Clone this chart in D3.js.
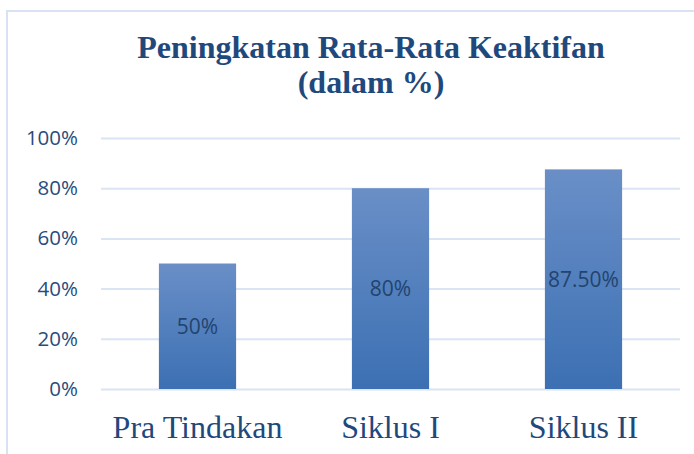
<!DOCTYPE html>
<html>
<head>
<meta charset="utf-8">
<script src="https://cdn.jsdelivr.net/npm/d3@7"></script>
<style>
  html, body { margin: 0; padding: 0; background: #fff; }
  svg { display: block; }
</style>
</head>
<body>
<svg id="chart" width="694" height="454"></svg>
<script>
const categories = ["Pra Tindakan", "Siklus I", "Siklus II"];
const values = [0.50, 0.80, 0.875];
const dataLabels = ["50%", "80%", "87.50%"];
const yTicks = [0, 0.2, 0.4, 0.6, 0.8, 1.0];
const titleLines = ["Peningkatan Rata-Rata Keaktifan", "(dalam %)"];

const svg = d3.select("#chart");

// frame
svg.append("rect")
  .attr("x", 7).attr("y", 11)
  .attr("width", 760).attr("height", 480)
  .attr("fill", "none")
  .attr("stroke", "#D7E3F3")
  .attr("stroke-width", 2);

const x = d3.scaleBand()
  .domain(categories)
  .range([101, 680])
  .paddingInner(0.6)
  .paddingOuter(0.3);

const y = d3.scaleLinear()
  .domain([0, 1])
  .range([389, 138]);

// gradient
const defs = svg.append("defs");
const grad = defs.append("linearGradient")
  .attr("id", "barGrad")
  .attr("x1", 0).attr("y1", 0).attr("x2", 0).attr("y2", 1);
grad.append("stop").attr("offset", "0%").attr("stop-color", "#6A8FC7");
grad.append("stop").attr("offset", "100%").attr("stop-color", "#3C70B3");

// gridlines + y labels via axis
const yAxis = d3.axisLeft(y)
  .tickValues(yTicks)
  .tickSize(-(680 - 101))
  .tickPadding(23)
  .tickFormat(d3.format(".0%"));

const gy = svg.append("g")
  .attr("transform", "translate(101,0)")
  .call(yAxis);
gy.select(".domain").remove();
gy.selectAll(".tick line")
  .attr("stroke", "#D9E4F4")
  .attr("stroke-width", 2);
gy.selectAll(".tick text")
  .attr("fill", "#284C7C")
  .attr("font-family", "'Open Sans', sans-serif")
  .attr("font-size", "20.5px");

// bars
const barData = categories.map((c, i) => ({ c, v: values[i], label: dataLabels[i] }));
svg.append("g").selectAll("rect")
  .data(barData)
  .join("rect")
  .attr("x", d => x(d.c))
  .attr("y", d => y(d.v))
  .attr("width", x.bandwidth())
  .attr("height", d => y(0) - y(d.v))
  .attr("fill", "url(#barGrad)");

// data labels
svg.append("g").selectAll("text")
  .data(barData)
  .join("text")
  .attr("x", d => x(d.c) + x.bandwidth() / 2)
  .attr("y", d => (y(d.v) + y(0)) / 2)
  .attr("dy", "0.36em")
  .attr("text-anchor", "middle")
  .attr("fill", "#22446F")
  .attr("font-family", "'Open Sans', sans-serif")
  .attr("font-size", "21px")
  .text(d => d.label);

// x axis labels
const xAxis = d3.axisBottom(x).tickSize(0).tickPadding(0);
const gx = svg.append("g")
  .attr("transform", "translate(0,389)")
  .call(xAxis);
gx.select(".domain").remove();
gx.selectAll(".tick text")
  .attr("y", 49)
  .attr("dy", 0)
  .attr("fill", "#1F497D")
  .attr("font-family", "'Liberation Serif', 'Times New Roman', serif")
  .attr("font-size", "32px");

// title
svg.append("g").selectAll("text")
  .data(titleLines)
  .join("text")
  .attr("x", 371)
  .attr("y", (d, i) => 58 + i * 35)
  .attr("text-anchor", "middle")
  .attr("fill", "#1F497D")
  .attr("font-family", "'Liberation Serif', 'Times New Roman', serif")
  .attr("font-weight", "bold")
  .attr("font-size", "32px")
  .text(d => d);
</script>
</body>
</html>
